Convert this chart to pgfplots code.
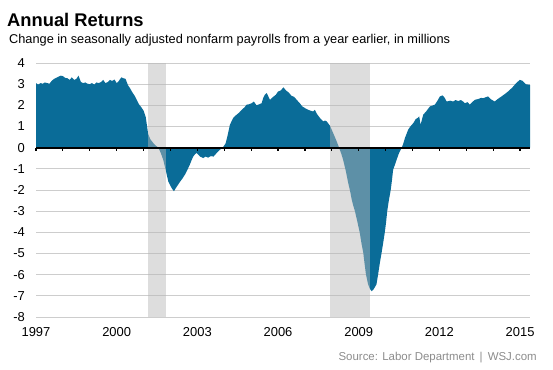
\documentclass[border=0pt]{standalone}
\usepackage{fontspec}
\setmainfont{Liberation Sans}
\usepackage{pgfplots}
\pgfplotsset{compat=1.18}
\definecolor{wsjblue}{RGB}{10,108,152}
\definecolor{gridgray}{RGB}{205,205,205}
\definecolor{srcgray}{RGB}{140,140,140}
\definecolor{bandgray}{RGB}{184,184,184}
\pgfdeclareplotmark{dtick}{\pgfpathmoveto{\pgfpointorigin}\pgfpathlineto{\pgfpoint{0pt}{-3.2bp}}\pgfusepathqstroke}

\pgfplotstableread{
x y
1997.00 3.05
1997.08 2.98
1997.17 3.05
1997.25 3.02
1997.33 3.08
1997.42 3.05
1997.50 3.02
1997.58 3.15
1997.67 3.25
1997.75 3.30
1997.83 3.35
1997.92 3.40
1998.00 3.38
1998.08 3.30
1998.17 3.28
1998.25 3.20
1998.33 3.32
1998.42 3.20
1998.50 3.25
1998.58 3.40
1998.67 3.10
1998.75 3.05
1998.83 3.08
1998.92 3.02
1999.00 3.00
1999.08 3.05
1999.17 2.98
1999.25 3.08
1999.33 3.05
1999.42 3.10
1999.50 3.20
1999.58 3.05
1999.67 3.10
1999.75 3.20
1999.83 3.15
1999.92 3.22
2000.00 3.05
2000.08 3.15
2000.17 3.32
2000.25 3.28
2000.33 3.25
2000.42 2.95
2000.50 2.80
2000.58 2.62
2000.67 2.45
2000.75 2.25
2000.83 2.05
2000.92 1.90
2001.00 1.75
2001.08 1.45
2001.17 0.65
2001.25 0.40
2001.36 0.22
2001.45 0.10
2001.55 0.00
2001.64 -0.25
2001.73 -0.57
2001.82 -1.04
2001.92 -1.60
2002.00 -1.80
2002.05 -1.92
2002.13 -2.06
2002.18 -1.95
2002.23 -1.85
2002.30 -1.72
2002.35 -1.62
2002.45 -1.45
2002.54 -1.27
2002.63 -1.05
2002.72 -0.80
2002.80 -0.55
2002.85 -0.41
2002.92 -0.30
2002.97 -0.25
2003.05 -0.35
2003.10 -0.42
2003.22 -0.49
2003.30 -0.42
2003.40 -0.47
2003.50 -0.40
2003.60 -0.42
2003.72 -0.25
2003.84 -0.10
2003.96 0.03
2004.05 0.20
2004.12 0.55
2004.21 1.08
2004.33 1.40
2004.46 1.56
2004.55 1.65
2004.65 1.79
2004.75 1.90
2004.83 2.03
2004.92 2.05
2005.02 2.10
2005.10 2.18
2005.20 2.00
2005.30 2.05
2005.39 2.10
2005.45 2.35
2005.51 2.50
2005.58 2.58
2005.70 2.26
2005.82 2.40
2005.92 2.50
2006.00 2.65
2006.10 2.70
2006.20 2.85
2006.30 2.70
2006.40 2.60
2006.50 2.45
2006.60 2.40
2006.70 2.25
2006.81 2.10
2006.90 1.95
2007.00 1.87
2007.10 1.80
2007.20 1.75
2007.31 1.71
2007.37 1.79
2007.43 1.63
2007.50 1.50
2007.56 1.40
2007.68 1.24
2007.75 1.28
2007.81 1.24
2007.93 1.04
2008.05 0.69
2008.18 0.30
2008.27 0.00
2008.35 -0.28
2008.42 -0.57
2008.52 -1.10
2008.61 -1.67
2008.68 -2.05
2008.74 -2.45
2008.80 -2.75
2008.86 -3.00
2008.95 -3.50
2009.04 -4.02
2009.10 -4.50
2009.17 -4.97
2009.22 -5.50
2009.27 -5.99
2009.35 -6.46
2009.42 -6.68
2009.48 -6.78
2009.55 -6.70
2009.66 -6.46
2009.72 -6.00
2009.78 -5.50
2009.85 -4.97
2009.91 -4.50
2009.97 -4.00
2010.02 -3.50
2010.06 -3.00
2010.12 -2.50
2010.19 -2.00
2010.24 -1.50
2010.28 -1.04
2010.35 -0.80
2010.41 -0.57
2010.50 -0.25
2010.60 0.00
2010.66 0.20
2010.72 0.46
2010.84 0.85
2010.92 1.00
2011.03 1.16
2011.12 1.35
2011.21 1.42
2011.25 1.48
2011.30 1.08
2011.40 1.56
2011.50 1.70
2011.65 1.95
2011.83 2.03
2011.92 2.20
2012.02 2.42
2012.12 2.47
2012.20 2.35
2012.27 2.18
2012.40 2.22
2012.51 2.18
2012.60 2.25
2012.70 2.20
2012.80 2.25
2012.88 2.18
2012.95 2.10
2013.05 2.15
2013.13 2.03
2013.22 2.15
2013.32 2.26
2013.45 2.30
2013.55 2.35
2013.63 2.34
2013.72 2.38
2013.81 2.42
2013.90 2.30
2014.00 2.22
2014.06 2.18
2014.15 2.28
2014.31 2.42
2014.45 2.55
2014.55 2.65
2014.62 2.74
2014.70 2.82
2014.80 2.97
2014.90 3.10
2014.99 3.20
2015.09 3.16
2015.21 3.00
2015.30 2.98
2015.37 2.97
}\payrolls

\begin{document}
\begin{tikzpicture}[x=1bp,y=1bp]
\begin{axis}[
  at={(0,0)}, anchor=south west,
  scale only axis, width=494bp, height=254bp,
  xmin=1997, xmax=2015.37, ymin=-8, ymax=4,
  axis line style={draw=none},
  xtick={1997,2000,2003,2006,2009,2012,2015},
  xticklabels={1997,2000,2003,2006,2009,2012,2015},
  ytick={-8,-7,-6,-5,-4,-3,-2,-1,0,1,2,3,4},
  yticklabels={-8,-7,-6,-5,-4,-3,-2,-1,0,1,2,3,4},
  major tick length=0pt,
  ymajorgrids,
  grid style={gridgray, line width=0.9bp},
  tick label style={font=\fontsize{13}{13}\selectfont, inner sep=0pt},
  xticklabel style={anchor=north, yshift=-10bp},
  yticklabel style={anchor=east, xshift=-11bp},
  clip=false,
]
\addplot[fill=wsjblue, draw=none] table[x=x,y=y] {\payrolls} \closedcycle;
\addplot[fill=bandgray, draw=none, fill opacity=0.48] coordinates {(2001.17,-8) (2001.17,4) (2001.83,4) (2001.83,-8)} -- cycle;
\addplot[fill=bandgray, draw=none, fill opacity=0.48] coordinates {(2007.93,-8) (2007.93,4) (2009.42,4) (2009.42,-8)} -- cycle;
\addplot[black, line width=1.8bp] coordinates {(1997,0) (2015.37,0)};
\addplot[only marks, mark=dtick, mark options={black, line width=1.2bp}] coordinates {
(1997,0) (1998,0) (1999,0) (2000,0) (2001,0) (2002,0) (2003,0) (2004,0) (2005,0) (2006,0)
(2007,0) (2008,0) (2009,0) (2010,0) (2011,0) (2012,0) (2013,0) (2014,0) (2015,0)};
\end{axis}
\node[anchor=base west, inner sep=0pt, font=\fontsize{18.4}{18.4}\selectfont\bfseries] at (-29,290.5) {Annual Returns};
\node[anchor=base west, inner sep=0pt, font=\fontsize{12.8}{12.8}\selectfont] at (-27,273.5) {Change in seasonally adjusted nonfarm payrolls from a year earlier, in millions};
\node[anchor=base east, inner sep=0pt, text=srcgray, font=\fontsize{11.5}{11.5}\selectfont] at (501,-43) {Source: Labor Department \,|\, WSJ.com};
\pgfresetboundingbox
\path (-36,-52) rectangle (517,317);
\end{tikzpicture}
\end{document}
